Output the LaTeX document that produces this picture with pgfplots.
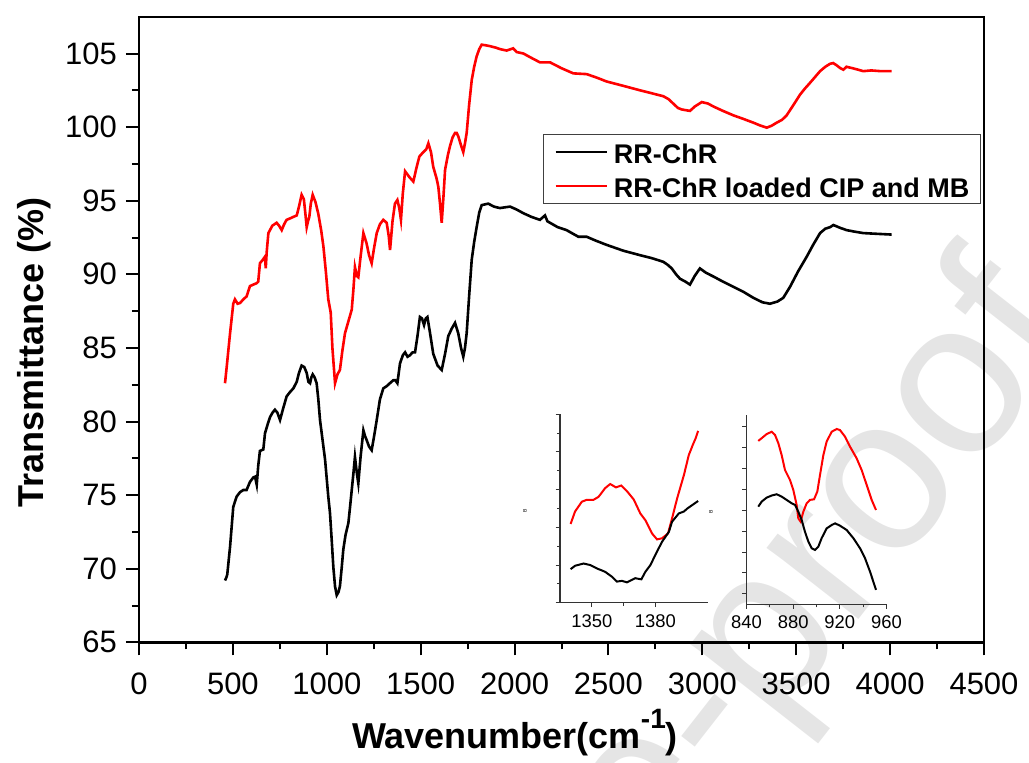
\documentclass[border=0pt]{standalone}
\usepackage{pgfplots}
\pgfplotsset{compat=1.18}
\usepackage{fontspec}
\setmainfont{Liberation Sans}
\begin{document}
\begin{tikzpicture}
\useasboundingbox (0pt,0pt) rectangle (514.5pt,381pt);
\begin{scope}
\clip (0pt,0pt) rectangle (514.5pt,381pt);
\node[rotate=52, anchor=base east, text=black!10, font=\fontsize{110}{110}\selectfont, inner sep=0pt] at (541.5pt,215pt) {Journal Pre-proof};
\end{scope}
\begin{axis}[
  at={(69.5pt,59.85pt)}, anchor=south west,
  scale only axis, width=422.5pt, height=312.65pt,
  xmin=0, xmax=4500, ymin=65, ymax=107.48,
  xtick={0,500,...,4500}, ytick={65,70,...,105},
  minor x tick num=1, minor y tick num=1,
  tick align=outside, xtick pos=left, ytick pos=left,
  major tick length=6.5pt, minor tick length=3.5pt,
  every tick/.style={black, line width=1pt},
  axis line style={line width=1.2pt},
  tick label style={font=\fontsize{15.5}{15.5}\selectfont},
  xticklabel style={yshift=-5pt},
  yticklabel style={xshift=-1pt},
  /pgf/number format/assume math mode=true,
  /pgf/number format/set thousands separator={},
  xlabel={Wavenumber(cm\raisebox{0.55em}{\fontsize{14}{14}\selectfont -1})},
  ylabel={Transmittance (\%)},
  label style={font=\bfseries\fontsize{18}{18}\selectfont},
  xlabel style={at={(axis description cs:0.445,0)}, anchor=base, yshift=-52.9pt},
  ylabel style={at={(axis description cs:-0.1136,0.4635)}, anchor=base},
  legend style={at={(axis description cs:0.9964,0.813)}, anchor=north east,
    draw=black!75, line width=0.6pt, inner xsep=5.5pt, inner ysep=0.25pt,
    font=\bfseries\fontsize{13.5}{13.5}\selectfont,
    nodes={inner xsep=0pt, inner ysep=2pt, text height=12pt, text depth=1pt},
    column sep=3pt},
  legend cell align=left,
  legend image code/.code={\draw[#1, line width=1.2pt] (0pt,0pt) -- (25.5pt,0pt);},
]
\addplot[black, line width=1.3pt] coordinates {
(458,69.2) (465,69.4) (470,69.6) (485,71.5) (502,74.2) (520,74.9) (538,75.2) (556,75.35) (573,75.35) (591,75.9) (609,76.2) (618,76.25) (627,75.7) (635,77.0) (644,78.0) (662,78.1) (671,79.2) (685,79.8) (698,80.3) (711,80.6) (724,80.8) (737,80.6) (751,80.1) (768,80.9) (786,81.7) (804,82.0) (822,82.25) (840,82.7) (852,83.3) (866,83.8) (880,83.7) (893,83.3) (902,82.7) (911,82.6) (918,83.0) (925,83.2) (935,83.0) (946,82.6) (955,81.5) (964,80.1) (978,78.7) (991,77.4) (1008,74.9) (1017,73.8) (1026,72.0) (1035,70.1) (1044,68.8) (1053,68.2) (1062,68.4) (1070,68.8) (1079,70.0) (1088,71.3) (1100,72.3) (1115,73.1) (1124,74.2) (1133,75.35) (1142,76.5) (1150,77.6) (1160,76.5) (1168,75.8) (1180,77.6) (1195,79.4) (1204,79.0) (1212,78.75) (1225,78.3) (1239,78.05) (1252,79.0) (1266,80.1) (1283,81.5) (1301,82.25) (1319,82.4) (1336,82.6) (1354,82.8) (1365,82.8) (1376,82.6) (1390,83.95) (1405,84.5) (1417,84.7) (1430,84.4) (1443,84.5) (1457,84.7) (1470,84.7) (1483,85.8) (1496,87.1) (1507,87.0) (1518,86.55) (1527,87.0) (1536,87.1) (1550,86.0) (1567,84.6) (1590,83.8) (1612,83.5) (1630,84.6) (1647,85.8) (1665,86.3) (1683,86.7) (1700,86.0) (1715,85.0) (1727,84.4) (1736,85.0) (1745,86.0) (1758,88.5) (1772,91.0) (1785,92.2) (1798,93.2) (1812,94.2) (1825,94.7) (1860,94.8) (1890,94.6) (1922,94.5) (1976,94.6) (2011,94.4) (2047,94.15) (2090,93.9) (2135,93.7) (2162,94.0) (2175,93.6) (2189,93.5) (2230,93.2) (2277,93.0) (2340,92.55) (2384,92.55) (2430,92.3) (2490,92.0) (2580,91.6) (2668,91.3) (2730,91.1) (2792,90.85) (2815,90.65) (2837,90.4) (2860,90.0) (2881,89.7) (2910,89.5) (2934,89.3) (2960,89.9) (2987,90.4) (3020,90.1) (3059,89.85) (3110,89.5) (3165,89.15) (3220,88.8) (3272,88.4) (3320,88.1) (3360,88.0) (3400,88.15) (3431,88.4) (3467,89.15) (3510,90.2) (3556,91.2) (3590,92.0) (3627,92.8) (3655,93.1) (3680,93.2) (3698,93.35) (3735,93.15) (3769,93.0) (3810,92.9) (3857,92.8) (3930,92.75) (4008,92.7)
};
\addlegendentry{RR-ChR}
\addplot[red, line width=1.3pt] coordinates {
(458,82.6) (467,83.7) (485,86.0) (502,88.0) (511,88.3) (525,88.0) (538,88.05) (556,88.3) (573,88.5) (591,89.2) (609,89.3) (627,89.4) (635,89.5) (644,90.75) (660,91.0) (671,91.2) (675,90.4) (680,91.5) (689,92.8) (710,93.3) (733,93.5) (746,93.3) (760,93.0) (773,93.4) (786,93.7) (805,93.8) (822,93.9) (840,94.0) (852,94.6) (866,95.4) (878,95.1) (887,94.0) (893,93.2) (900,93.6) (907,93.9) (915,94.8) (925,95.4) (940,94.9) (955,94.1) (970,93.0) (982,91.9) (995,90.2) (1008,88.3) (1021,87.4) (1030,85.0) (1044,82.6) (1057,83.2) (1070,83.5) (1083,84.8) (1097,86.0) (1115,86.8) (1133,87.6) (1142,89.0) (1150,90.5) (1160,89.9) (1168,89.8) (1180,91.2) (1195,92.8) (1212,92.1) (1225,91.3) (1239,90.75) (1252,91.8) (1266,92.8) (1283,93.4) (1301,93.7) (1319,93.5) (1330,92.6) (1337,91.65) (1350,93.6) (1363,94.8) (1376,95.05) (1386,94.5) (1395,93.7) (1405,95.5) (1417,97.0) (1440,96.6) (1461,96.3) (1477,97.2) (1493,98.0) (1514,98.3) (1530,98.5) (1541,98.9) (1555,98.3) (1567,97.3) (1585,96.5) (1594,95.95) (1603,94.8) (1612,93.5) (1621,95.2) (1630,97.1) (1645,98.1) (1656,98.7) (1670,99.3) (1683,99.6) (1692,99.6) (1701,99.35) (1714,98.8) (1727,98.3) (1736,98.9) (1745,99.6) (1758,101.5) (1772,103.2) (1785,104.1) (1798,104.8) (1812,105.3) (1825,105.6) (1850,105.55) (1869,105.5) (1900,105.4) (1922,105.3) (1958,105.2) (1993,105.35) (2011,105.1) (2047,105.0) (2090,104.7) (2135,104.4) (2189,104.4) (2250,104.0) (2313,103.65) (2384,103.6) (2440,103.35) (2490,103.1) (2580,102.8) (2668,102.5) (2730,102.3) (2792,102.1) (2820,101.9) (2845,101.6) (2870,101.3) (2890,101.2) (2934,101.1) (2960,101.4) (2997,101.7) (3030,101.6) (3059,101.4) (3110,101.1) (3165,100.8) (3220,100.55) (3272,100.3) (3310,100.1) (3343,99.96) (3370,100.1) (3396,100.3) (3425,100.5) (3449,100.8) (3485,101.5) (3520,102.2) (3545,102.6) (3573,103.0) (3600,103.4) (3627,103.8) (3655,104.1) (3680,104.3) (3697,104.35) (3715,104.2) (3735,104.0) (3751,103.9) (3768,104.1) (3800,104.0) (3830,103.9) (3857,103.8) (3900,103.85) (3950,103.8) (4008,103.8)
};
\addlegendentry{RR-ChR loaded CIP and MB}
\end{axis}
% inset 1
\begin{axis}[
  at={(280pt,79.65pt)}, anchor=south west,
  scale only axis, width=74.15pt, height=94.2pt,
  xmin=1335, xmax=1405, ymin=0, ymax=5,
  axis x line*=bottom, axis y line*=left,
  axis line style={-, line width=0.6pt, black!80},
  xtick={1350,1380}, ytick={0,1,...,5}, yticklabels={},
  minor x tick num=1, minor y tick num=1,
  tick align=outside, major tick length=2.2pt, minor tick length=1.5pt,
  every tick/.style={black!80, line width=0.5pt},
  tick label style={font=\fontsize{9.2}{9.2}\selectfont},
  /pgf/number format/assume math mode=true,
  /pgf/number format/set thousands separator={},
  ylabel={B}, ylabel style={font=\fontsize{2.5}{2.5}\selectfont, at={(axis description cs:-0.236,0.49)}, anchor=center},
]
\addplot[red, line width=1pt] coordinates {
(1340.0,2.09) (1342.1,2.42) (1345.3,2.68) (1347.6,2.73) (1350.8,2.73) (1353.2,2.81) (1356.3,3.04) (1358.7,3.15) (1361.4,3.06) (1363.9,3.11) (1366.6,2.96) (1369.8,2.74) (1372.9,2.37) (1375.3,2.19) (1378.4,1.84) (1380.8,1.68) (1383.2,1.71) (1386.0,1.84) (1387.9,2.24) (1390.3,2.77) (1393.5,3.39) (1395.8,3.92) (1397.7,4.19) (1399.0,4.36) (1400.2,4.56)
};
\addplot[black, line width=1pt] coordinates {
(1340.0,0.89) (1342.1,0.98) (1346.1,1.04) (1349.2,1.00) (1352.4,0.91) (1356.3,0.82) (1359.5,0.69) (1361.8,0.56) (1364.2,0.58) (1366.6,0.54) (1370.5,0.65) (1373.4,0.62) (1375.3,0.82) (1377.7,1.00) (1380.0,1.27) (1383.2,1.62) (1386.4,1.88) (1387.9,2.15) (1391.1,2.37) (1393.5,2.42) (1395.1,2.50) (1397.4,2.59) (1400.2,2.70)
};
\end{axis}
% inset 2
\begin{axis}[
  at={(373.25pt,78.85pt)}, anchor=south west,
  scale only axis, width=70pt, height=94.65pt,
  xmin=840, xmax=960, ymin=0, ymax=9.05,
  axis x line*=bottom, axis y line*=left,
  axis line style={-, line width=0.6pt, black!80},
  xtick={840,880,920,960}, ytick={0.5,1.5,...,8.5}, yticklabels={},
  minor x tick num=1,
  tick align=outside, major tick length=2.2pt, minor tick length=1.5pt,
  every tick/.style={black!80, line width=0.5pt},
  tick label style={font=\fontsize{9.2}{9.2}\selectfont},
  /pgf/number format/assume math mode=true,
  ylabel={B}, ylabel style={font=\fontsize{2.5}{2.5}\selectfont, at={(axis description cs:-0.254,0.49)}, anchor=center},
]
\addplot[red, line width=1pt] coordinates {
(850.1,7.81) (853,7.94) (857.3,8.14) (861.6,8.25) (864.4,8.10) (867.3,7.70) (870.1,7.14) (873,6.42) (877.3,5.94) (880.1,5.47) (883,4.75) (884.4,4.11) (886.4,3.95) (888.7,4.43) (891.6,4.83) (894.4,4.99) (897.9,5.02) (900.7,5.39) (903.0,6.18) (905.9,7.14) (908.7,7.78) (913,8.25) (917.3,8.38) (920.1,8.33) (924.4,8.02) (928.7,7.54) (934.4,6.98) (938.7,6.42) (943.0,5.71) (947.3,4.99) (951,4.51)
};
\addplot[black, line width=1pt] coordinates {
(850.1,4.67) (853,4.91) (857.3,5.10) (861.6,5.20) (865.9,5.26) (870.1,5.15) (874.4,4.99) (878.7,4.83) (881.6,4.75) (884.4,4.43) (887.3,4.03) (890.1,3.47) (893,3.00) (895.9,2.68) (898.7,2.60) (901.6,2.76) (904.4,3.16) (908.7,3.63) (913,3.79) (915.9,3.87) (920.1,3.76) (925.9,3.55) (931.6,3.16) (937.3,2.68) (941.6,2.20) (945.9,1.56) (951,0.69)
};
\end{axis}
\end{tikzpicture}
\end{document}
